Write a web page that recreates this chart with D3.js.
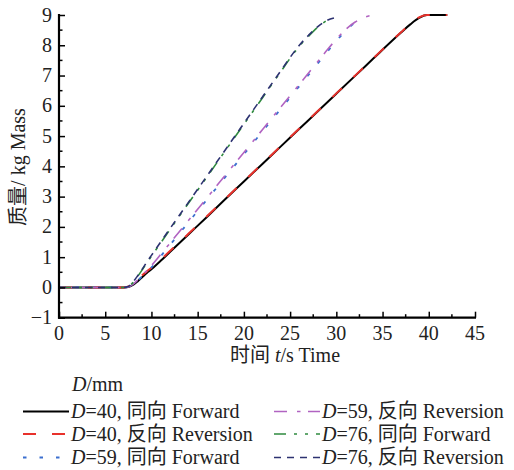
<!DOCTYPE html>
<html>
<head>
<meta charset="utf-8">
<script src="https://cdn.jsdelivr.net/npm/d3@7"></script>
<style>
  body { margin: 0; background: #fff; }
  svg text { font-family: "Liberation Serif", "Noto Sans CJK SC", serif; fill: #222; }
</style>
</head>
<body>
<div id="chart"></div>
<script>
// values (t in s, mass in kg)
const time40 = [0, 7, 7.5, 8, 8.5, 9, 9.5, 10, 11, 12, 14, 16, 18, 20, 22, 24, 26, 28, 30, 32, 34, 36, 37, 38, 39, 39.8, 41, 42];
const mass40F = [0, 0, 0.01, 0.08, 0.2, 0.34, 0.48, 0.6, 0.88, 1.17, 1.75, 2.33, 2.92, 3.5, 4.08, 4.66, 5.24, 5.82, 6.4, 6.98, 7.56, 8.14, 8.42, 8.69, 8.91, 9.0, 9.0, 9.0];
const mass40R = [0, 0, 0.03, 0.12, 0.25, 0.4, 0.53, 0.65, 0.92, 1.2, 1.77, 2.35, 2.93, 3.51, 4.09, 4.67, 5.25, 5.83, 6.41, 6.99, 7.57, 8.15, 8.43, 8.71, 8.93, 9.0, 9.0, 9.0];

const time59F = [0, 7, 7.5, 8, 8.5, 9, 9.5, 10, 11, 12, 14, 16, 18, 20, 22, 24, 26, 28, 29, 30, 31, 32, 33];
const mass59F = [0, 0, 0.02, 0.09, 0.22, 0.37, 0.5, 0.66, 1.03, 1.4, 2.15, 2.9, 3.65, 4.4, 5.15, 5.9, 6.65, 7.4, 7.78, 8.14, 8.48, 8.74, 8.9];
const time59R = [0, 7, 7.5, 8, 8.5, 9, 9.5, 10, 11, 12, 14, 16, 18, 20, 22, 24, 26, 28, 29, 30, 31, 32, 33, 34];
const mass59R = [0, 0, 0.02, 0.1, 0.24, 0.4, 0.55, 0.72, 1.09, 1.46, 2.21, 2.96, 3.71, 4.46, 5.21, 5.96, 6.71, 7.46, 7.84, 8.2, 8.52, 8.76, 8.92, 9.0];

const time76F = [0, 7, 7.5, 8, 8.5, 9, 9.5, 10, 11, 12, 14, 16, 18, 20, 22, 24, 25, 26, 27, 28, 29];
const mass76F = [0, 0, 0.03, 0.16, 0.36, 0.58, 0.81, 1.03, 1.47, 1.91, 2.78, 3.65, 4.52, 5.39, 6.26, 7.13, 7.57, 7.97, 8.3, 8.6, 8.83];
const time76R = [0, 7, 7.5, 8, 8.5, 9, 9.5, 10, 11, 12, 14, 16, 18, 20, 22, 24, 25, 26, 27, 28, 29, 30];
const mass76R = [0, 0, 0.03, 0.18, 0.38, 0.6, 0.84, 1.06, 1.5, 1.94, 2.81, 3.68, 4.55, 5.42, 6.29, 7.16, 7.6, 8.0, 8.33, 8.62, 8.82, 8.92];

const xTicks = [0, 5, 10, 15, 20, 25, 30, 35, 40, 45];
const yTicks = [-1, 0, 1, 2, 3, 4, 5, 6, 7, 8, 9];

const series = [
  { d: "40", dir: "同向", en: "Forward", t: time40, m: mass40F, color: "#000000", dash: null, w: 2 },
  { d: "40", dir: "反向", en: "Reversion", t: time40, m: mass40R, color: "#e8312b", dash: "13,16", w: 2 },
  { d: "59", dir: "同向", en: "Forward", t: time59F, m: mass59F, color: "#3b6fcf", dash: "3.5,13", w: 1.8 },
  { d: "59", dir: "反向", en: "Reversion", t: time59R, m: mass59R, color: "#b163c1", dash: "13,10,3.5,7.5", w: 1.6 },
  { d: "76", dir: "同向", en: "Forward", t: time76F, m: mass76F, color: "#2f8a3f", dash: "12,8,3,8,3,8", w: 1.6 },
  { d: "76", dir: "反向", en: "Reversion", t: time76R, m: mass76R, color: "#2d3271", dash: "7,6", w: 1.6 },
];

const width = 514, height = 470;
const margin = { top: 15, right: 39, bottom: 153, left: 59 };
const FS = 20;

const svg = d3.select("#chart").append("svg")
  .attr("width", width)
  .attr("height", height);

const x = d3.scaleLinear().domain([0, 45]).range([margin.left, width - margin.right]);
const y = d3.scaleLinear().domain([-1, 9]).range([height - margin.bottom + 0.7, margin.top]);

// lines
const line = d3.line()
  .x(d => x(d[0]))
  .y(d => y(d[1]))
  .curve(d3.curveMonotoneX);

const plot = svg.append("g");
series.forEach(s => {
  plot.append("path")
    .datum(d3.zip(s.t, s.m))
    .attr("fill", "none")
    .attr("stroke", s.color)
    .attr("stroke-width", s.w)
    .attr("stroke-dasharray", s.dash)
    .attr("d", line);
});

// axes with inward ticks
const minorX = d3.range(2.5, 45, 5);
const minorY = d3.range(-0.5, 9, 1);

const xAxis = svg.append("g").attr("transform", `translate(0,${y(-1)})`);
xAxis.call(d3.axisTop(x).tickValues(xTicks).tickSize(6).tickFormat(""));
xAxis.call(g => g.select(".domain").remove());
xAxis.selectAll("line").attr("stroke", "#000").attr("stroke-width", 1.5);
xAxis.selectAll(".minor").data(minorX).enter().append("line")
  .attr("x1", d => x(d)).attr("x2", d => x(d)).attr("y1", 0).attr("y2", -3.5)
  .attr("stroke", "#000").attr("stroke-width", 1.5);
xAxis.append("line")
  .attr("x1", x(0) - 1).attr("x2", x(45) + 1).attr("y1", 0).attr("y2", 0)
  .attr("stroke", "#000").attr("stroke-width", 2.2);
xAxis.selectAll(".lab").data(xTicks).enter().append("text")
  .attr("x", d => x(d)).attr("y", 22)
  .attr("text-anchor", "middle")
  .attr("font-size", FS)
  .text(d => d);

const yAxis = svg.append("g").attr("transform", `translate(${x(0)},0)`);
yAxis.call(d3.axisRight(y).tickValues(yTicks).tickSize(6).tickFormat(""));
yAxis.call(g => g.select(".domain").remove());
yAxis.selectAll("line").attr("stroke", "#000").attr("stroke-width", 1.5);
yAxis.selectAll(".minor").data(minorY).enter().append("line")
  .attr("y1", d => y(d)).attr("y2", d => y(d)).attr("x1", 0).attr("x2", 3.5)
  .attr("stroke", "#000").attr("stroke-width", 1.5);
yAxis.append("line")
  .attr("y1", y(-1) + 1).attr("y2", y(9) - 1).attr("x1", 0).attr("x2", 0)
  .attr("stroke", "#000").attr("stroke-width", 2.2);
yAxis.selectAll(".lab").data(yTicks).enter().append("text")
  .attr("x", -7).attr("y", d => y(d) + 6.5)
  .attr("text-anchor", "end")
  .attr("font-size", FS)
  .text(d => d < 0 ? "\u2212" + Math.abs(d) : d);

// axis titles
const xTitle = svg.append("text")
  .attr("x", 285).attr("y", 362)
  .attr("text-anchor", "middle")
  .attr("font-size", FS);
xTitle.append("tspan").text("时间 ");
xTitle.append("tspan").attr("font-style", "italic").text("t");
xTitle.append("tspan").text("/s Time");

svg.append("text")
  .attr("transform", "translate(25,167) rotate(-90)")
  .attr("text-anchor", "middle")
  .attr("font-size", FS)
  .text("质量/ kg Mass");

// legend
const lg = svg.append("g");
const lgTitle = lg.append("text").attr("x", 72).attr("y", 391).attr("font-size", FS);
lgTitle.append("tspan").attr("font-style", "italic").text("D");
lgTitle.append("tspan").text("/mm");

const rowY = [411.5, 434, 457.5];
series.forEach((s, i) => {
  const col = Math.floor(i / 3), row = i % 3;
  const x0 = col === 0 ? 23 : 274;
  const item = lg.append("g").attr("transform", `translate(${x0},${rowY[row]})`);
  item.append("line")
    .attr("x1", 0).attr("x2", 46).attr("y1", 0).attr("y2", 0)
    .attr("stroke", s.color)
    .attr("stroke-width", s.w)
    .attr("stroke-dasharray", s.dash ? s.dash : null);
  const t = item.append("text").attr("x", 48).attr("y", 6.5).attr("font-size", FS);
  t.append("tspan").attr("font-style", "italic").text("D");
  t.append("tspan").text(`=${s.d}, ${s.dir} ${s.en}`);
});
</script>
</body>
</html>
